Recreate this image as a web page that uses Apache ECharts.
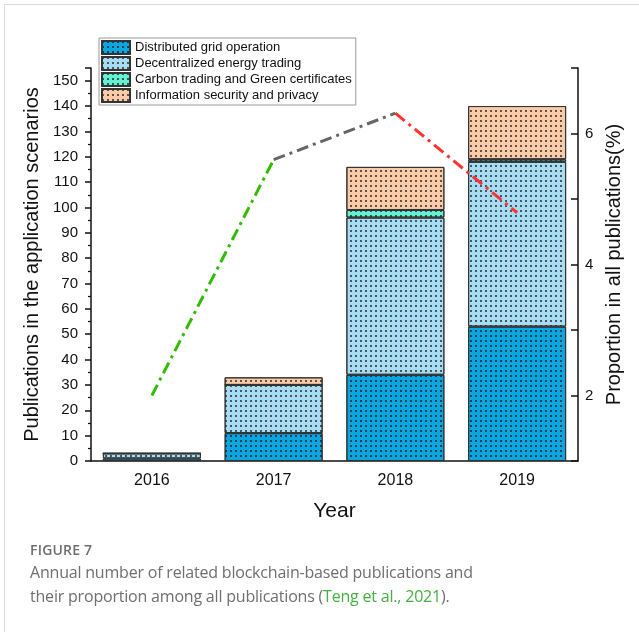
<!DOCTYPE html>
<html>
<head>
<meta charset="utf-8">
<script src="https://cdn.jsdelivr.net/npm/echarts@6/dist/echarts.min.js"></script>
<style>
  html, body { margin: 0; padding: 0; background: #fff; }
  #wrap { position: relative; width: 639px; height: 632px; overflow: hidden; }
  #frame { position: absolute; left: 4px; top: 4px; width: 700px; height: 700px; border: 1px solid #dcdcdc; }
  #chart { position: absolute; left: 0; top: 0; width: 639px; height: 632px; }
  #caption { position: absolute; left: 30px; top: 540px; width: 590px; font-family: "Open Sans", "Noto Sans", sans-serif; color: #6f6f6f; }
  #caption .fig { font-size: 14px; font-weight: 600; letter-spacing: 0.2px; line-height: 20px; }
  #caption .txt { font-size: 16px; letter-spacing: -0.2px; line-height: 24px; }
  #caption .ref { color: #45b040; }
</style>
</head>
<body>
<div id="wrap">
  <div id="frame"></div>
  <div id="chart"></div>
  <div id="caption">
    <div class="fig">FIGURE 7</div>
    <div class="txt">Annual number of related blockchain-based publications and<br>their proportion among all publications (<span class="ref">Teng et al., 2021</span>).</div>
  </div>
</div>
<script>
// 数据
const years = ['2016', '2017', '2018', '2019']
const seriesNames = [
  'Distributed grid operation',
  'Decentralized energy trading',
  'Carbon trading and Green certificates',
  'Information security and privacy'
]
const distributedGrid = [1, 11, 34, 53]
const decentralizedTrading = [2, 19, 62, 65]
const carbonTrading = [0, 0, 3, 1]
const infoSecurity = [0, 3, 17, 21]
const proportion = [2.0, 5.6, 6.31, 4.79]

const barColors = ['#0aa6e0', '#a8dcf2', '#66f0d2', '#f9cba8']
const segColors = ['#33bb00', '#666666', '#ff3333']
const font = '"Liberation Sans", Arial, sans-serif'

const chart = echarts.init(document.getElementById('chart'))

const dots = {
  symbol: 'rect',
  symbolSize: 1,
  color: 'rgba(0, 0, 0, 0.6)',
  dashArrayX: [1.4, 3],
  dashArrayY: [1.4, 3]
}

const barSeries = [distributedGrid, decentralizedTrading, carbonTrading, infoSecurity].map((vals, i) => ({
  name: seriesNames[i],
  type: 'bar',
  stack: 'total',
  barWidth: 98,
  data: vals,
  itemStyle: { color: barColors[i], borderColor: '#333', borderWidth: 1, decal: dots }
}))

// 折线分段着色
const lineSeries = segColors.map((c, k) => ({
  type: 'line',
  yAxisIndex: 1,
  z: 5,
  symbol: 'none',
  silent: true,
  data: proportion.map((v, i) => (i === k || i === k + 1) ? v : null),
  lineStyle: { color: c, width: 3, type: [12, 5, 3, 5] }
}))

chart.setOption({
  animation: false,
  textStyle: { fontFamily: font },
  grid: { left: 91, right: 61, top: 68, bottom: 171 },
  legend: {
    data: seriesNames,
    icon: 'rect',
    orient: 'vertical',
    left: 99,
    top: 38,
    padding: [2, 4, 2, 2],
    itemWidth: 28,
    itemHeight: 13,
    itemGap: 1,
    itemTextGap: 5,
    backgroundColor: '#fff',
    borderColor: '#999',
    borderWidth: 1,
    textStyle: { fontFamily: font, fontSize: 13, lineHeight: 15, color: '#111' }
  },
  xAxis: [
    {
      type: 'category',
      data: years,
      name: 'Year',
      nameLocation: 'middle',
      nameGap: 40,
      nameTextStyle: { fontSize: 21, color: '#111', fontFamily: font },
      axisLine: { lineStyle: { color: '#111', width: 1.5 } },
      axisTick: { alignWithLabel: true, length: 6, lineStyle: { color: '#111', width: 1.5 } },
      axisLabel: { fontSize: 16, color: '#111', margin: 12 }
    },
    {
      type: 'category',
      data: years,
      position: 'bottom',
      axisLine: { show: false },
      axisTick: { length: 4, lineStyle: { color: '#111', width: 1.5 } },
      axisLabel: { show: false }
    }
  ],
  yAxis: [
    {
      type: 'value',
      min: 0,
      max: 155,
      interval: 10,
      name: 'Publications in the application scenarios',
      nameLocation: 'middle',
      nameRotate: 90,
      nameGap: 41,
      nameTextStyle: { fontSize: 20, color: '#111', fontFamily: font },
      axisLine: { show: true, lineStyle: { color: '#111', width: 1.5 } },
      axisTick: { show: true, length: 6, lineStyle: { color: '#111', width: 1.5 } },
      minorTick: { show: true, splitNumber: 2, length: 3, lineStyle: { color: '#111', width: 1.2 } },
      splitLine: { show: false },
      axisLabel: {
        fontSize: 15,
        color: '#111',
        margin: 13,
        formatter: v => (v % 10 === 0 && v <= 150) ? String(v) : ''
      }
    },
    {
      type: 'value',
      min: 1,
      max: 7,
      interval: 1,
      position: 'right',
      name: 'Proportion in all publications(%)',
      nameLocation: 'middle',
      nameRotate: 90,
      nameGap: 26,
      nameTextStyle: { fontSize: 20, color: '#111', fontFamily: font },
      axisLine: { show: true, lineStyle: { color: '#111', width: 1.5 } },
      axisTick: { show: true, inside: true, length: 7, lineStyle: { color: '#111', width: 1.5 } },
      splitLine: { show: false },
      axisLabel: {
        fontSize: 15,
        color: '#111',
        margin: 7,
        formatter: v => (v % 2 === 0) ? String(v) : ''
      }
    }
  ],
  series: [...barSeries, ...lineSeries]
})
</script>
</body>
</html>
